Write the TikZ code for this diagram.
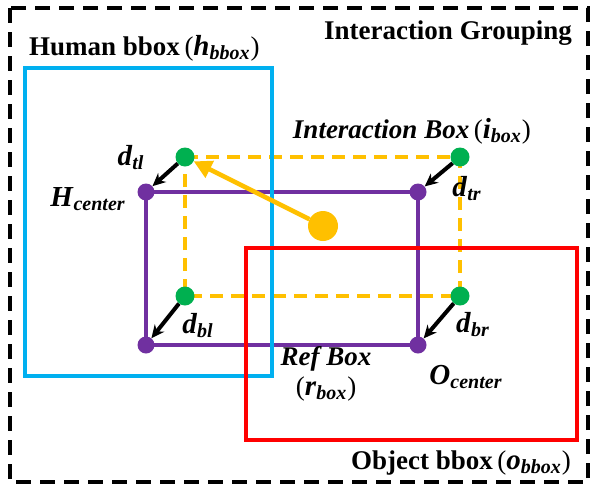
\documentclass[tikz,border=0pt]{standalone}
\usepackage{fontspec}
\setmainfont{Liberation Serif}
\usepackage{xcolor}
\usetikzlibrary{arrows.meta, positioning, backgrounds}
\definecolor{humanblue}{HTML}{00B0F0}
\definecolor{objred}{HTML}{FF0000}
\definecolor{refpurple}{HTML}{7030A0}
\definecolor{interyellow}{HTML}{FFC000}
\definecolor{cornergreen}{HTML}{00B050}
\newcommand{\bsym}[2]{{\fontsize{29}{30}\selectfont\textbf{\textit{#1}}}\raisebox{-0.32ex}{\fontsize{20}{20}\selectfont\textbf{\textit{#2\kern1pt}}}}
\newcommand{\lpar}[1]{{\mdseries(}#1{\mdseries)}}

\begin{document}
\begin{tikzpicture}[x=1pt, y=-1pt,
  refdot/.style={circle, fill=refpurple, inner sep=0pt, minimum size=17pt},
  cornerdot/.style={circle, fill=cornergreen, inner sep=0pt, minimum size=19pt},
  bigdot/.style={circle, fill=interyellow, inner sep=0pt, minimum size=30pt},
  label/.style={font=\fontsize{27}{30}\selectfont\bfseries, inner sep=1pt},
  symlabel/.style={font=\fontsize{27}{30}\selectfont, inner sep=1pt},
  offset/.style={-{Stealth[length=13pt, width=12pt]}, line width=4pt, black},
  refline/.style={draw=refpurple, line width=3.5pt},
  interline/.style={draw=interyellow, line width=3.5pt, dash pattern=on 13pt off 8pt}
]
  \useasboundingbox (0,0) rectangle (602,493);

  % Outer group and boxes
  \draw[line width=3.5pt, dash pattern=on 15pt off 9pt] (10,8) rectangle (588,482);
  \draw[humanblue, line width=4pt] (25,68) rectangle (272,376);
  \draw[objred, line width=4pt] (246,248) rectangle (577,440);

  % Corner points
  \node[refdot] (hc) at (146,192) {};
  \node[refdot] (rtr) at (418,192) {};
  \node[refdot] (rbl) at (146,345) {};
  \node[refdot] (oc) at (418,345) {};
  \node[cornerdot] (itl) at (185,157) {};
  \node[cornerdot] (itr) at (460,157) {};
  \node[cornerdot] (ibl) at (185,296) {};
  \node[cornerdot] (ibr) at (460,296) {};
  \node[bigdot] (ic) at (323,226) {};

  % Box outlines behind the dots
  \begin{scope}[on background layer]
    \draw[interline] (itl.center) -- (itr.center) -- (ibr.center) -- (ibl.center) -- cycle;
    \draw[refline] (hc.center) -- (rtr.center) -- (oc.center) -- (rbl.center) -- cycle;
  \end{scope}

  % Arrows
  \draw[interyellow, line width=4.5pt, -{Triangle[length=18pt, width=18pt]}] (ic) -- (itl);
  \draw[offset] (itl) -- (hc);
  \draw[offset] (itr) -- (rtr);
  \draw[offset] (ibl) -- (rbl);
  \draw[offset] (ibr) -- (oc);

  % Labels
  \node[label, anchor=east] (group) at (573,33) {Interaction Grouping};
  \node[label, anchor=west] (hlabel) at (28,48) {Human bbox\,\lpar{\bsym{h}{bbox}}};
  \node[symlabel, anchor=east] (ilabel) at (532,131) {\textbf{\textit{Interaction Box}}\,\lpar{\bsym{i}{box}}};
  \node[symlabel] (dtl) at (131,158) {\bsym{d}{tl}};
  \node[symlabel] (hcl) at (88,199) {\bsym{H}{center}};
  \node[symlabel] (dtr) at (467,189) {\bsym{d}{tr}};
  \node[symlabel] (dbl) at (198,326) {\bsym{d}{bl}};
  \node[symlabel] (dbr) at (473,325) {\bsym{d}{br}};
  \node[symlabel, align=center] (rlabel) at (326,374) {\textbf{\textit{Ref Box}}\\\lpar{\bsym{r}{box}}};
  \node[symlabel] (ocl) at (466,377) {\bsym{O}{center}};
  \node[label, anchor=east] (olabel) at (572,463) {Object bbox\,\lpar{\bsym{o}{bbox}}};
\end{tikzpicture}
\end{document}
